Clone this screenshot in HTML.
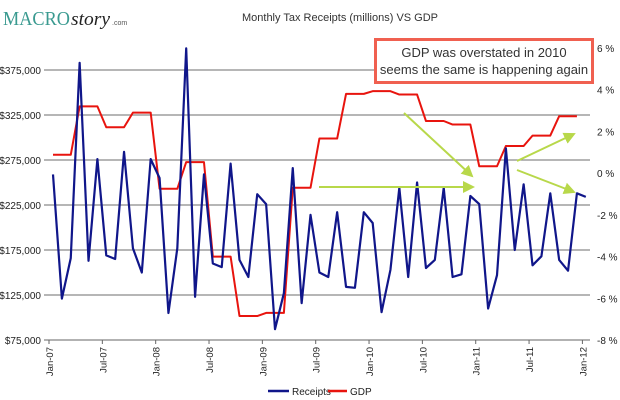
<!DOCTYPE html>
<html><head><meta charset="utf-8"><style>
html,body{margin:0;padding:0;background:#fff;}
svg{display:block;font-family:"Liberation Sans",sans-serif;}
</style></head><body>
<svg id="chart" width="620" height="400" viewBox="0 0 620 400">
  <g>
    <text x="3" y="25" font-family="Liberation Serif,serif" font-size="20" fill="#3a9a90" textLength="67" lengthAdjust="spacingAndGlyphs">MACRO</text>
    <text x="71" y="25" font-family="Liberation Serif,serif" font-style="italic" font-size="19" fill="#222" textLength="39" lengthAdjust="spacingAndGlyphs">story</text>
    <text x="112" y="25" font-size="7" fill="#555">.com</text>
  </g>
  <text x="340" y="21" font-size="11" fill="#333" text-anchor="middle">Monthly Tax Receipts (millions) VS GDP</text>
  <g id="grid"></g><g id="axes"></g><g id="series"></g>
  <g>
    <rect x="375.5" y="39.5" width="217" height="43" fill="#fff" stroke="#f06050" stroke-width="3"/>
    <text x="484" y="57" font-size="13" fill="#333" text-anchor="middle">GDP was overstated in 2010</text>
    <text x="484" y="74" font-size="13" fill="#333" text-anchor="middle">seems the same is happening again</text>
  </g>
  <defs><marker id="ah" markerWidth="6" markerHeight="6" refX="5" refY="3" orient="auto"><path d="M0,0 L6,3 L0,6 z" fill="#b8d84a"/></marker></defs>
  <g stroke="#b8d84a" stroke-width="2" marker-end="url(#ah)">
    <line x1="404" y1="113" x2="472" y2="176"/>
    <line x1="319" y1="187" x2="473" y2="187"/>
    <line x1="517" y1="161" x2="574" y2="134"/>
    <line x1="517" y1="170" x2="574" y2="192"/>
  </g>
  <g>
    <line x1="268" y1="391" x2="289" y2="391" stroke="#10168a" stroke-width="2.5"/>
    <text x="292" y="395" font-size="10" fill="#222">Receipts</text>
    <line x1="328" y1="391" x2="347" y2="391" stroke="#e8140e" stroke-width="2.5"/>
    <text x="350" y="395" font-size="10" fill="#222">GDP</text>
  </g>
</svg>
<script>
const receipts=[259,121,166,383,163,276,169,165,284,177,150,276,255,105,177,399,123,259,160,156,271,164,145,237,226,87,127,266,116,214,150,145,217,134,133,217,205,106,153,244,145,250,155,164,244,145,148,235,226,110,147,288,175,248,158,168,238,164,152,238,234];
const gdp=[0.88,0.88,0.88,3.2,3.2,3.2,2.2,2.2,2.2,2.9,2.9,2.9,-0.75,-0.75,-0.75,0.53,0.53,0.53,-4.0,-4.0,-4.0,-6.85,-6.85,-6.85,-6.7,-6.7,-6.7,-0.7,-0.7,-0.7,1.66,1.66,1.66,3.8,3.8,3.8,3.93,3.93,3.93,3.77,3.77,3.77,2.5,2.5,2.5,2.33,2.33,2.33,0.33,0.33,0.33,1.3,1.3,1.3,1.8,1.8,1.8,2.73,2.73,2.73];
const leftTicks=[75,125,175,225,275,325,375];
const leftLabels=["$75,000","$125,000","$175,000","$225,000","$275,000","$325,000","$375,000"];
const rightTicks=[-8,-6,-4,-2,0,2,4,6];
const xLabels=["Jan-07","Jul-07","Jan-08","Jul-08","Jan-09","Jul-09","Jan-10","Jul-10","Jan-11","Jul-11","Jan-12"];
const NS="http://www.w3.org/2000/svg";
const yL=v=>340-(v-75)*0.9;
const yR=p=>340-(p+8)*(292/14);
const xI=i=>53+i*8.88;
const xT=m=>49+m*8.89;
function mk(tag,attrs,parent){const e=document.createElementNS(NS,tag);for(const k in attrs)e.setAttribute(k,attrs[k]);parent.appendChild(e);return e;}
const grid=document.getElementById('grid'),axes=document.getElementById('axes'),series=document.getElementById('series');
leftTicks.forEach((v,i)=>{
  const y=yL(v);
  if(i>0){const g=mk('line',{x1:44,x2:590,y1:y,y2:y,stroke:'#8a8a8a','stroke-width':1.2},grid);
  
  }
  const t=mk('text',{x:41,y:y+4,'font-size':10,fill:'#222','text-anchor':'end'},axes);t.textContent=leftLabels[i];
  
  
});
rightTicks.forEach(p=>{
  const t=mk('text',{x:597,y:yR(p)+4,'font-size':10,fill:'#222'},axes);t.textContent=(p<0?'-':'')+Math.abs(p)+' %';
  
  
});
const base=mk('line',{x1:44,x2:590,y1:340,y2:340,stroke:'#666','stroke-width':1},axes);


xLabels.forEach((l,k)=>{
  const x=xT(k*6);
  const tk=mk('line',{x1:x,x2:x,y1:340,y2:344,stroke:'#666'},axes);
  
  
  const t=mk('text',{x:0,y:0,'font-size':9.5,fill:'#222','text-anchor':'end',transform:`translate(${x+4},347) rotate(-90)`},axes);t.textContent=l;
  
  
});
const gp=mk('polyline',{points:gdp.map((p,i)=>xI(i)+','+yR(p)).join(' '),fill:'none',stroke:'#e8140e','stroke-width':2,'stroke-linejoin':'round'},series);


const rp=mk('polyline',{points:receipts.map((v,i)=>xI(i)+','+yL(v)).join(' '),fill:'none',stroke:'#10168a','stroke-width':2.2,'stroke-linejoin':'round'},series);


</script>
</body></html>
